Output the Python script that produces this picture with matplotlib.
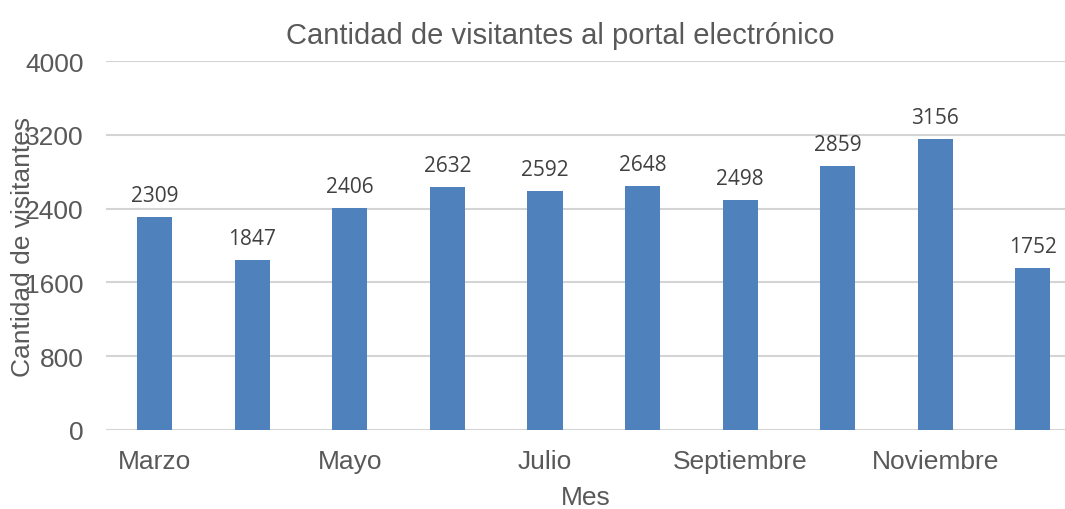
import numpy as np
import matplotlib.pyplot as plt

plt.rcParams['font.family'] = ['Liberation Sans', 'DejaVu Sans']

meses = ["Marzo", "Abril", "Mayo", "Junio", "Julio", "Agosto",
         "Septiembre", "Octubre", "Noviembre", "Diciembre"]
visitantes = [2309, 1847, 2406, 2632, 2592, 2648, 2498, 2859, 3156, 1752]
yticks = [0, 800, 1600, 2400, 3200, 4000]

gris = "#595959"
fig = plt.figure(figsize=[10.65, 5.1], dpi=100)
ax = fig.add_axes([0.0995, 0.155, 0.9005, 0.723])

x = np.arange(len(meses))
ax.bar(x, visitantes, width=0.36, color="#4f81bd", zorder=3)
for xi, v in zip(x, visitantes):
    ax.annotate(str(v), (xi, v), xytext=(0, 8), textcoords="offset points",
                ha="center", va="bottom", fontsize=15, color="#404040",
                family=["Open Sans", "DejaVu Sans"])

ax.set_ylim(0, 4000)
ax.set_xlim(-0.5, 9.33)
ax.set_yticks(yticks)
ax.set_xticks(x[::2])
ax.set_xticklabels(meses[::2])
ax.grid(axis="y", color="#d4d4d4", linewidth=1.5, zorder=0)
for s in ax.spines.values():
    s.set_visible(False)
ax.tick_params(length=0, labelsize=19, labelcolor=gris)
ax.tick_params(axis="y", pad=16)
ax.tick_params(axis="x", pad=14)

ax.set_title("Cantidad de visitantes al portal electrónico", fontsize=21, color=gris,
             pad=13, x=0.474)
ax.set_xlabel("Mes", fontsize=19, color=gris, labelpad=8)
ax.set_ylabel("Cantidad de visitantes", fontsize=19, color=gris)
ax.yaxis.set_label_coords(-0.074, 0.5)

plt.savefig("out.png")
